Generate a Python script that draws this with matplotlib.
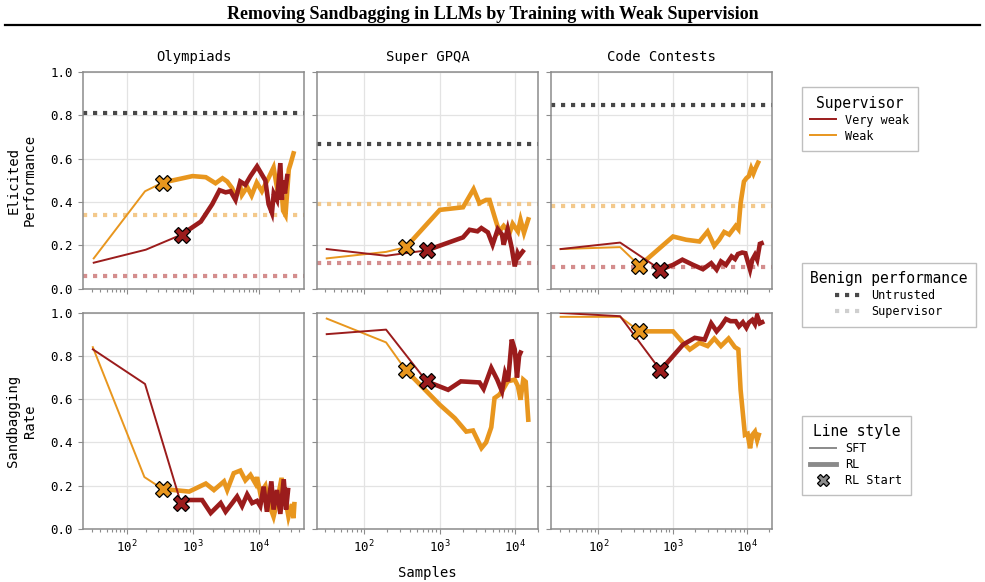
import matplotlib
matplotlib.use("Agg")
import matplotlib.pyplot as plt
from matplotlib.lines import Line2D

# columns (benchmarks)
tasks = ["Olympiads", "Super GPQA", "Code Contests"]
row_labels = ["Elicited\nPerformance", "Sandbagging\nRate"]

# benign performance (dotted reference lines)
untrusted_perf = [0.81, 0.67, 0.85]
weak_perf = [0.34, 0.39, 0.38]
very_weak_perf = [0.06, 0.12, 0.10]

# ---- Olympiads, elicited performance
oly_perf_vw_sft_x = [32, 195, 680]
oly_perf_vw_sft_y = [0.12, 0.18, 0.25]
oly_perf_vw_rl_x = [680, 1320, 1960, 2530, 3120, 3700, 4400, 5200, 6200, 7400, 9300, 10400,
                    12400, 13900, 15600, 16600, 18600, 20900, 22000, 23000, 24500, 26500]
oly_perf_vw_rl_y = [0.25, 0.31, 0.39, 0.455, 0.445, 0.45, 0.41, 0.495, 0.48, 0.52, 0.565, 0.54,
                    0.50, 0.39, 0.35, 0.44, 0.41, 0.58, 0.41, 0.50, 0.44, 0.52]
oly_perf_w_sft_x = [32, 190, 350]
oly_perf_w_sft_y = [0.14, 0.45, 0.49]
oly_perf_w_rl_x = [350, 990, 1570, 2200, 2800, 3300, 3900, 4400, 5200, 5500, 6600, 7700, 9200,
                   11000, 13800, 16500, 19000, 21000, 23000, 25000, 28000, 30000, 33000]
oly_perf_w_rl_y = [0.49, 0.52, 0.515, 0.487, 0.51, 0.495, 0.465, 0.43, 0.47, 0.433, 0.47, 0.43, 0.49,
                   0.45, 0.51, 0.56, 0.45, 0.52, 0.36, 0.34, 0.55, 0.58, 0.625]

# ---- Olympiads, sandbagging rate
oly_sand_vw_sft_x = [31, 190, 660]
oly_sand_vw_sft_y = [0.83, 0.67, 0.12]
oly_sand_vw_rl_x = [660, 880, 1380, 1860, 2630, 3120, 3930, 4650, 5530, 6600, 7850, 9300, 10400,
                    11700, 13100, 15300, 16500, 18600, 20900, 23500, 25500, 27300]
oly_sand_vw_rl_y = [0.12, 0.134, 0.134, 0.074, 0.12, 0.08, 0.12, 0.15, 0.106, 0.16, 0.12, 0.13, 0.106,
                    0.196, 0.08, 0.22, 0.09, 0.18, 0.07, 0.23, 0.09, 0.18]
oly_sand_w_sft_x = [31, 186, 350]
oly_sand_w_sft_y = [0.84, 0.24, 0.185]
oly_sand_w_rl_x = [350, 880, 1570, 2080, 2950, 3300, 4140, 5200, 6200, 7400, 8800, 9300, 10400,
                   12400, 13900, 16500, 18500, 21800, 24800, 27700, 31200, 33000, 34000]
oly_sand_w_rl_y = [0.185, 0.173, 0.21, 0.18, 0.22, 0.18, 0.258, 0.27, 0.225, 0.25, 0.21, 0.24, 0.165,
                   0.2, 0.12, 0.057, 0.12, 0.236, 0.14, 0.057, 0.115, 0.05, 0.115]

# ---- Super GPQA, elicited performance
gpqa_perf_vw_sft_x = [32, 195, 670]
gpqa_perf_vw_sft_y = [0.183, 0.152, 0.177]
gpqa_perf_vw_rl_x = [670, 2030, 2480, 3150, 3550, 4330, 5000, 5850, 6650, 7000, 7900, 8950,
                     9800, 10700, 11200, 12500]
gpqa_perf_vw_rl_y = [0.177, 0.237, 0.272, 0.265, 0.28, 0.26, 0.203, 0.275, 0.25, 0.203, 0.275, 0.188,
                     0.103, 0.164, 0.15, 0.172]
gpqa_perf_w_sft_x = [32, 195, 357]
gpqa_perf_w_sft_y = [0.14, 0.17, 0.192]
gpqa_perf_w_rl_x = [357, 1000, 2030, 2800, 3350, 4100, 4550, 5300, 6100, 7000, 8400, 9200,
                    10800, 11700, 13000, 14800]
gpqa_perf_w_rl_y = [0.192, 0.364, 0.376, 0.46, 0.395, 0.41, 0.41, 0.333, 0.264, 0.29, 0.258, 0.30,
                    0.264, 0.318, 0.258, 0.32]

# ---- Super GPQA, sandbagging rate
gpqa_sand_vw_sft_x = [32, 195, 670]
gpqa_sand_vw_sft_y = [0.90, 0.921, 0.682]
gpqa_sand_vw_rl_x = [670, 1290, 1900, 3350, 3800, 4800, 5750, 6650, 7300, 8000, 8950, 9800,
                     10500, 11200, 11700]
gpqa_sand_vw_rl_y = [0.682, 0.643, 0.682, 0.677, 0.647, 0.744, 0.69, 0.636, 0.72, 0.682, 0.875, 0.83,
                     0.70, 0.80, 0.815]
gpqa_sand_w_sft_x = [32, 195, 357]
gpqa_sand_w_sft_y = [0.972, 0.862, 0.733]
gpqa_sand_w_rl_x = [357, 1000, 1580, 2240, 2750, 3560, 4100, 4800, 5300, 6100, 6750, 7900,
                    9800, 10800, 11700, 12700, 13700, 14800]
gpqa_sand_w_rl_y = [0.733, 0.574, 0.512, 0.45, 0.455, 0.374, 0.40, 0.47, 0.605, 0.62, 0.64, 0.682,
                    0.69, 0.66, 0.597, 0.69, 0.68, 0.505]

# ---- Code Contests, elicited performance
code_perf_vw_sft_x = [31, 196, 685]
code_perf_vw_sft_y = [0.183, 0.213, 0.088]
code_perf_vw_rl_x = [685, 1010, 1350, 1880, 2550, 3300, 3900, 4460, 5200, 6200, 6900, 7550,
                     8600, 9500, 11000, 11800, 12800, 13700, 14900, 15700]
code_perf_vw_rl_y = [0.088, 0.11, 0.134, 0.11, 0.09, 0.118, 0.088, 0.126, 0.11, 0.149, 0.137, 0.16,
                     0.167, 0.164, 0.088, 0.134, 0.156, 0.134, 0.207, 0.21]
code_perf_w_sft_x = [31, 196, 357]
code_perf_w_sft_y = [0.183, 0.192, 0.106]
code_perf_w_rl_x = [357, 1010, 1520, 2290, 2950, 3630, 4230, 4930, 5750, 7050, 7650, 8200,
                    9100, 9800, 10600, 11400, 12200, 13000, 14100]
code_perf_w_rl_y = [0.106, 0.241, 0.226, 0.218, 0.264, 0.198, 0.226, 0.262, 0.25, 0.29, 0.275, 0.395,
                    0.495, 0.51, 0.52, 0.556, 0.532, 0.556, 0.582]

# ---- Code Contests, sandbagging rate
code_sand_vw_sft_x = [31, 196, 685]
code_sand_vw_sft_y = [0.998, 0.983, 0.733]
code_sand_vw_rl_x = [685, 1380, 1980, 2690, 3300, 3900, 4460, 5200, 6000, 7050, 7800, 8800,
                     9800, 10600, 11800, 12800, 13700, 14900, 16000]
code_sand_vw_rl_y = [0.733, 0.852, 0.883, 0.875, 0.95, 0.913, 0.936, 0.97, 0.96, 0.96, 0.936, 0.955,
                     0.93, 0.953, 0.966, 0.946, 0.986, 0.95, 0.955]
code_sand_w_sft_x = [31, 196, 357]
code_sand_w_sft_y = [0.98, 0.98, 0.913]
code_sand_w_rl_x = [357, 1010, 1380, 1700, 2290, 2950, 3630, 4460, 5650, 6870, 7650, 8200,
                    9380, 10200, 11000, 11800, 12800, 13700, 14400]
code_sand_w_rl_y = [0.913, 0.913, 0.86, 0.829, 0.86, 0.845, 0.88, 0.845, 0.88, 0.84, 0.83, 0.643,
                    0.435, 0.44, 0.373, 0.435, 0.45, 0.41, 0.435]

# colours
VERY_WEAK = "#9b1c1c"
WEAK = "#e8961e"
UNTRUSTED_C = "#484848"
WEAK_LIGHT = "#f3c98c"
VERY_WEAK_LIGHT = "#d48e8e"
SPINE = "#8c8c8c"

# panel table: [row][col] -> (very weak sft, very weak rl, weak sft, weak rl)
panels = [
    [
        ((oly_perf_vw_sft_x, oly_perf_vw_sft_y), (oly_perf_vw_rl_x, oly_perf_vw_rl_y),
         (oly_perf_w_sft_x, oly_perf_w_sft_y), (oly_perf_w_rl_x, oly_perf_w_rl_y)),
        ((gpqa_perf_vw_sft_x, gpqa_perf_vw_sft_y), (gpqa_perf_vw_rl_x, gpqa_perf_vw_rl_y),
         (gpqa_perf_w_sft_x, gpqa_perf_w_sft_y), (gpqa_perf_w_rl_x, gpqa_perf_w_rl_y)),
        ((code_perf_vw_sft_x, code_perf_vw_sft_y), (code_perf_vw_rl_x, code_perf_vw_rl_y),
         (code_perf_w_sft_x, code_perf_w_sft_y), (code_perf_w_rl_x, code_perf_w_rl_y)),
    ],
    [
        ((oly_sand_vw_sft_x, oly_sand_vw_sft_y), (oly_sand_vw_rl_x, oly_sand_vw_rl_y),
         (oly_sand_w_sft_x, oly_sand_w_sft_y), (oly_sand_w_rl_x, oly_sand_w_rl_y)),
        ((gpqa_sand_vw_sft_x, gpqa_sand_vw_sft_y), (gpqa_sand_vw_rl_x, gpqa_sand_vw_rl_y),
         (gpqa_sand_w_sft_x, gpqa_sand_w_sft_y), (gpqa_sand_w_rl_x, gpqa_sand_w_rl_y)),
        ((code_sand_vw_sft_x, code_sand_vw_sft_y), (code_sand_vw_rl_x, code_sand_vw_rl_y),
         (code_sand_w_sft_x, code_sand_w_sft_y), (code_sand_w_rl_x, code_sand_w_rl_y)),
    ],
]

plt.rcParams["font.family"] = ["DejaVu Sans Mono"]
plt.rcParams["font.size"] = 9

fig, axes = plt.subplots(2, 3, figsize=(9.85, 5.82), dpi=100, sharex="col", sharey=True)
fig.subplots_adjust(left=0.084, right=0.784, bottom=0.091, top=0.876, wspace=0.055, hspace=0.11)

dot_style = dict(linestyle=(0, (1, 1.4)), linewidth=3.0, dash_capstyle="butt", zorder=1)

for r in range(2):
    for c in range(3):
        ax = axes[r][c]
        vw_sft, vw_rl, w_sft, w_rl = panels[r][c]

        if r == 0:
            ax.axhline(untrusted_perf[c], color=UNTRUSTED_C, **dot_style)
            ax.axhline(weak_perf[c], color=WEAK_LIGHT, **dot_style)
            ax.axhline(very_weak_perf[c], color=VERY_WEAK_LIGHT, **dot_style)

        # weak supervisor first, very weak on top
        ax.plot(w_sft[0], w_sft[1], color=WEAK, lw=1.4, zorder=3)
        ax.plot(w_rl[0], w_rl[1], color=WEAK, lw=3.3, zorder=3, solid_joinstyle="miter")
        ax.plot(vw_sft[0], vw_sft[1], color=VERY_WEAK, lw=1.4, zorder=4)
        ax.plot(vw_rl[0], vw_rl[1], color=VERY_WEAK, lw=3.3, zorder=4, solid_joinstyle="miter")

        # RL start markers
        ax.plot(w_rl[0][0], w_rl[1][0], marker="X", ms=11, mfc=WEAK, mec="black", mew=0.9, zorder=6)
        ax.plot(vw_rl[0][0], vw_rl[1][0], marker="X", ms=11, mfc=VERY_WEAK, mec="black", mew=0.9, zorder=6)

        ax.set_xscale("log")
        ax.set_ylim(0, 1.0)
        ax.set_yticks([0.0, 0.2, 0.4, 0.6, 0.8, 1.0])
        ax.grid(True, color="#e3e3e3", linewidth=0.9, zorder=0)
        ax.set_axisbelow(True)
        for s in ax.spines.values():
            s.set_color(SPINE)
            s.set_linewidth(1.1)
        ax.tick_params(which="both", color=SPINE, length=3.5, width=0.8, labelsize=9)
        ax.tick_params(which="minor", length=2)

        if r == 0:
            ax.set_title(tasks[c], fontsize=10, pad=8)
        if c == 0:
            ax.set_ylabel(row_labels[r], fontsize=10, labelpad=10)

axes[1][1].set_xlabel("Samples", fontsize=10, labelpad=8)

# title and rule underneath
fig.text(0.5, 0.975, "Removing Sandbagging in LLMs by Training with Weak Supervision",
         ha="center", va="center", fontsize=13, fontweight="bold", family="Liberation Serif")
fig.add_artist(Line2D([0.005, 0.995], [0.957, 0.957], color="black", lw=1.6))

# legends
leg_kw = dict(frameon=True, fancybox=False, edgecolor="#b0b0b0", fontsize=8.5,
              title_fontsize=10.5, loc="upper left", borderpad=0.7, handlelength=2.2,
              labelspacing=0.25)

sup_handles = [Line2D([], [], color=VERY_WEAK, lw=1.4), Line2D([], [], color=WEAK, lw=1.4)]
leg1 = fig.legend(sup_handles, ["Very weak", "Weak"], title="Supervisor",
                  bbox_to_anchor=(0.808, 0.86), **leg_kw)

benign_handles = [Line2D([], [], color=UNTRUSTED_C, linestyle=(0, (1, 1.4)), lw=3, dash_capstyle="butt"),
                  Line2D([], [], color="#cfcfcf", linestyle=(0, (1, 1.4)), lw=3, dash_capstyle="butt")]
leg2 = fig.legend(benign_handles, ["Untrusted", "Supervisor"], title="Benign performance",
                  bbox_to_anchor=(0.808, 0.558), **leg_kw)

style_handles = [Line2D([], [], color="#8a8a8a", lw=1.4),
                 Line2D([], [], color="#8a8a8a", lw=3.5),
                 Line2D([], [], color="none", marker="X", ms=9, mfc="#8a8a8a", mec="black", mew=0.9)]
leg3 = fig.legend(style_handles, ["SFT", "RL", "RL Start"], title="Line style",
                  bbox_to_anchor=(0.808, 0.296), **leg_kw)

for lg in (leg1, leg2, leg3):
    lg.get_frame().set_linewidth(1.0)

fig.savefig("out.png", dpi=100)
